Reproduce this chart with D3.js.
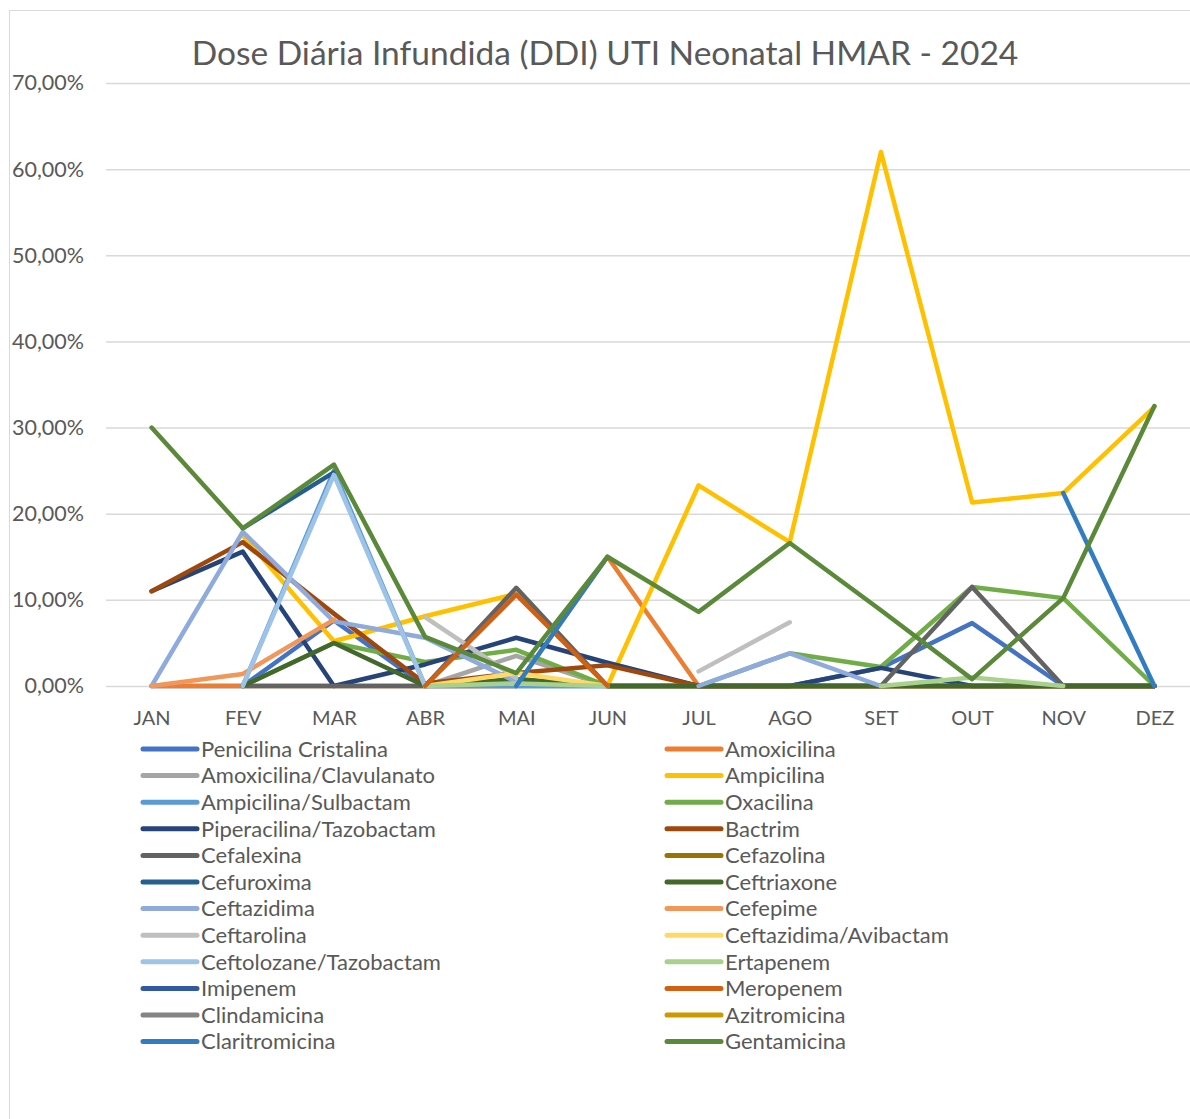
<!DOCTYPE html>
<html><head><meta charset="utf-8">
<script src="https://cdn.jsdelivr.net/npm/d3@7"></script>
<style>
html,body{margin:0;padding:0;background:#fff;}
svg text{font-family:Lato,"Open Sans",sans-serif;fill:#595959;}
</style></head>
<body>
<svg id="chart" width="1190" height="1119"></svg>
<script>
const months = ["JAN","FEV","MAR","ABR","MAI","JUN","JUL","AGO","SET","OUT","NOV","DEZ"];
const yTicks = [0,10,20,30,40,50,60,70];
const title = "Dose Diária Infundida (DDI) UTI Neonatal HMAR - 2024";

const seriesNames = ["Penicilina Cristalina","Amoxicilina","Amoxicilina/Clavulanato","Ampicilina","Ampicilina/Sulbactam","Oxacilina","Piperacilina/Tazobactam","Bactrim","Cefalexina","Cefazolina","Cefuroxima","Ceftriaxone","Ceftazidima","Cefepime","Ceftarolina","Ceftazidima/Avibactam","Ceftolozane/Tazobactam","Ertapenem","Imipenem","Meropenem","Clindamicina","Azitromicina","Claritromicina","Gentamicina"];
const seriesColors = ["#4472C4","#ED7D31","#A5A5A5","#FFC000","#5B9BD5","#70AD47","#264478","#9E480E","#636363","#997300","#255E91","#43682B","#8FAADC","#F1975A","#BFBFBF","#FFD966","#9DC3E6","#A9D18E","#335AA1","#D26012","#848484","#CC9A00","#327DC2","#5A8A39"];

// values in % (null = empty cell)
const penicilinaCristalina   = [0, 0, 7.6, 0, 0, 0, 0, 0, 2.1, 7.3, 0, 0];
const amoxicilina            = [0, 0, 0, 0, 0, 15.0, 0, 0, 0, 0, 0, 0];
const amoxClavulanato        = [null, 0, 0, 0, 3.5, 0, 0, 0, 0, 0, 0, 0];
const ampicilina             = [null, 17.5, 5.2, 8.1, 10.7, 0, 23.3, 16.7, 62.0, 21.3, 22.4, 32.4];
const ampicilinaSulbactam    = [null, 0, 25.0, 0, 0, 0, 0, 0, 0, 0, 0, 0];
const oxacilina              = [null, 0, 5.0, 2.8, 4.2, 0, 0, 3.8, 2.2, 11.5, 10.2, 0];
const piperacilinaTazo       = [11.0, 15.6, 0, 2.5, 5.6, 2.7, 0, 0, 2.1, 0, 0, 0];
const bactrim                = [11.0, 16.7, 8.4, 0.3, 1.5, 2.4, 0, 0, 0, 0, 0, 0];
const cefalexina             = [null, 0, 0, 0, 11.4, 0, 0, 0, 0, 11.5, 0, 0];
const cefazolina             = [null, null, null, null, null, 0, 0, 0, 0, 0, 0, 0];
const cefuroxima             = [null, 18.3, 24.8, null, null, null, null, null, null, null, null, null];
const ceftriaxone            = [null, 0, 5.0, 0, 0.8, 0, 0, 0, 0, 0, 0, 0];
const ceftazidima            = [0, 17.9, 7.5, 5.6, 0.5, null, 0, 3.8, 0, null, null, null];
const cefepime               = [0, 1.4, 7.7, null, null, null, null, null, null, null, null, null];
const ceftarolina            = [null, null, null, 8.0, 0.9, null, 1.7, 7.4, null, null, null, null];
const ceftazidimaAvibactam   = [null, null, null, 0, 1.5, 0, null, null, null, null, null, null];
const ceftolozaneTazo        = [null, 0, 24.5, 0, null, null, null, null, null, null, null, null];
const ertapenem              = [null, null, null, 0, 0.3, 0, null, null, 0, 1.0, 0, null];
const imipenem               = [null, null, null, null, null, null, null, null, null, null, null, null];
const meropenem              = [null, null, null, 0, 10.6, 0, null, null, null, null, null, null];
const clindamicina           = [null, null, null, null, null, null, null, null, null, null, null, null];
const azitromicina           = [null, null, null, null, null, null, null, null, null, null, null, null];
const claritromicina         = [null, null, null, null, 0, 15.0, null, null, null, null, 22.4, 0];
const gentamicina            = [30.0, 18.3, 25.7, 5.7, 1.5, 15.0, 8.6, 16.6, 8.8, 0.8, 10.2, 32.5];

const seriesValues = [penicilinaCristalina, amoxicilina, amoxClavulanato, ampicilina, ampicilinaSulbactam, oxacilina, piperacilinaTazo, bactrim, cefalexina, cefazolina, cefuroxima, ceftriaxone, ceftazidima, cefepime, ceftarolina, ceftazidimaAvibactam, ceftolozaneTazo, ertapenem, imipenem, meropenem, clindamicina, azitromicina, claritromicina, gentamicina];

const svg = d3.select("#chart");
const plot = {left: 106, right: 1200, top: 83, bottom: 686};

svg.append("rect").attr("x", 9.5).attr("y", 10.5).attr("width", 1200).attr("height", 1200)
  .attr("fill", "#fff").attr("stroke", "#D9D9D9").attr("stroke-width", 1);

svg.append("text").attr("x", 605).attr("y", 65).attr("text-anchor", "middle")
  .style("font-size", "33.5px").text(title);

const x = d3.scalePoint().domain(months).range([plot.left, plot.right]).padding(0.5);
const y = d3.scaleLinear().domain([0, 70]).range([plot.bottom, plot.top]);

const yAxis = svg.append("g").attr("transform", `translate(${plot.left},0)`)
  .call(d3.axisLeft(y).tickValues(yTicks).tickSize(-(plot.right - plot.left)).tickPadding(22)
    .tickFormat(d => d.toFixed(2).replace(".", ",") + "%"));
yAxis.select(".domain").remove();
yAxis.selectAll(".tick line").attr("stroke", "#D9D9D9").attr("stroke-width", 1.5);
yAxis.selectAll(".tick text").style("font-size", "21.5px").attr("fill", "#595959");

const xAxis = svg.append("g").attr("transform", `translate(0,${plot.bottom})`)
  .call(d3.axisBottom(x).tickSize(0).tickPadding(25));
xAxis.select(".domain").remove();
xAxis.selectAll(".tick text").style("font-size", "20px").attr("fill", "#595959");

const line = d3.line().defined(d => d.v !== null).x(d => x(d.m)).y(d => y(d.v));
const gLines = svg.append("g");
seriesValues.forEach((vals, i) => {
  const data = months.map((m, j) => ({m, v: vals[j]}));
  gLines.append("path").datum(data).attr("d", line)
    .attr("fill", "none").attr("stroke", seriesColors[i]).attr("stroke-width", 4.5)
    .attr("stroke-linecap", "round").attr("stroke-linejoin", "round");
});

const leg = svg.append("g");
seriesNames.forEach((name, i) => {
  const col = i % 2, row = Math.floor(i / 2);
  const lx = col === 0 ? 143 : 667;
  const ly = 749 + row * 26.6;
  leg.append("line").attr("x1", lx).attr("x2", lx + 54).attr("y1", ly).attr("y2", ly)
    .attr("stroke", seriesColors[i]).attr("stroke-width", 5).attr("stroke-linecap", "round");
  leg.append("text").attr("x", lx + 58).attr("y", ly).attr("dy", "0.35em")
    .style("font-size", "22px").text(name);
});
</script>
</body></html>
